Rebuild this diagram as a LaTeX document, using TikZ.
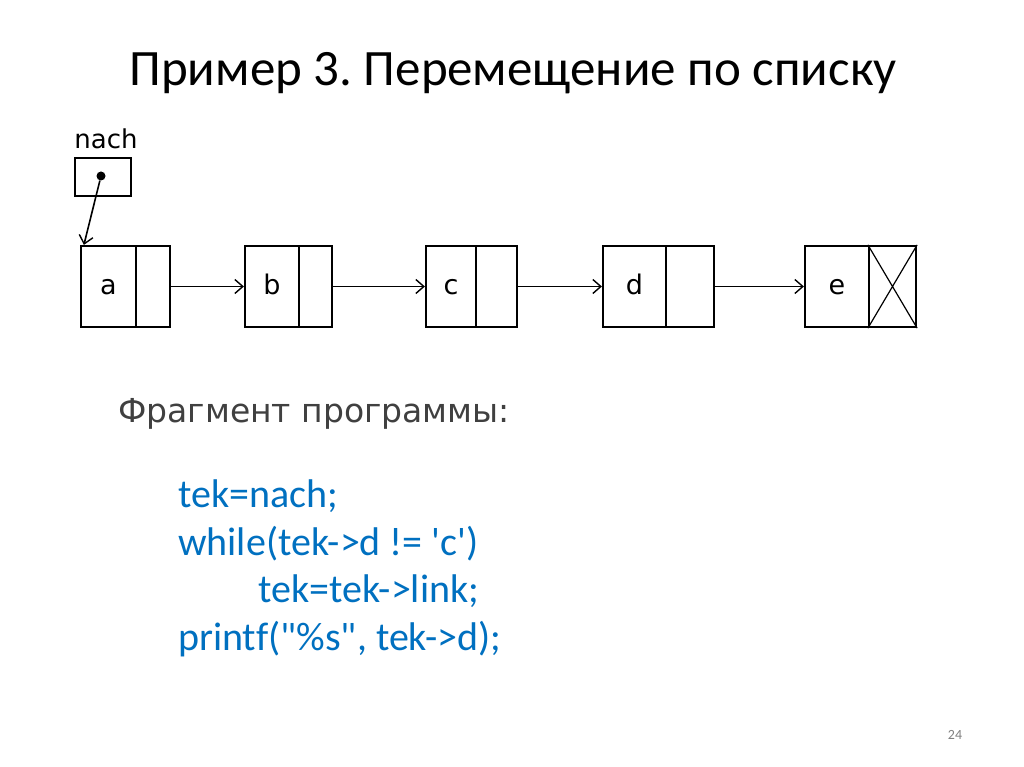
\documentclass[tikz,border=0pt]{standalone}
\usepackage{fontspec}
\setmainfont{Carlito}
\newfontfamily\djv{DejaVu Sans}
\newfontfamily\codefont{Carlito}[Ligatures={TeXOff,CommonOff}]
\usetikzlibrary{arrows.meta,calc}
\definecolor{codeblue}{HTML}{0070C0}
\definecolor{graytext}{HTML}{404040}
\tikzset{
  cell/.style={draw,line width=2.2pt,inner sep=0pt,minimum height=81pt,text height=15pt,text depth=0pt,font=\djv\fontsize{27}{27}\selectfont},
  link/.style={line width=1.6pt,-{Straight Barb[length=8pt,width=14pt,line width=1.4pt]}},
  code/.style={anchor=base west,inner sep=0pt,text=codeblue,font=\codefont\fontsize{40}{40}\selectfont},
}
\frenchspacing
\begin{document}
\begin{tikzpicture}[x=1pt,y=-1pt]
\useasboundingbox[fill=white] (0,0) rectangle (1024,767);
% title
\node[inner sep=0pt,font=\fontsize{51}{51}\selectfont] (title) at (513,73) {Пример 3. Перемещение по списку};
% nach pointer
\node[inner sep=0pt,font=\djv\fontsize{26}{26}\selectfont] (nachlbl) at (106,139) {nach};
\node[draw,line width=2.2pt,minimum width=56pt,minimum height=38pt,inner sep=0pt] (nach) at (103,177) {};
\node[circle,fill,inner sep=0pt,minimum size=9pt] (dot) at (101,176) {};
% list cells
\node[cell,minimum width=55pt] (a) at (108.5,286.5) {a};
\node[cell,minimum width=34pt] (ap) at (153,286.5) {};
\node[cell,minimum width=54pt] (b) at (272,286.5) {b};
\node[cell,minimum width=33pt] (bp) at (315.5,286.5) {};
\node[cell,minimum width=50pt] (c) at (451,286.5) {c};
\node[cell,minimum width=41pt] (cp) at (496.5,286.5) {};
\node[cell,minimum width=63pt] (d) at (634.5,286.5) {d};
\node[cell,minimum width=48pt] (dp) at (690,286.5) {};
\node[cell,minimum width=64pt] (e) at (837,286.5) {e};
\node[cell,minimum width=47pt] (ep) at (892.5,286.5) {};
\draw[line width=1.2pt] (ep.north west) -- (ep.south east) (ep.north east) -- (ep.south west);
% connectors
\coordinate (aIn) at ($(a.north west)+(4,0)$);
\draw[link] (dot) -- (aIn);
\draw[link] (ap.east) -- (b.west);
\draw[link] (bp.east) -- (c.west);
\draw[link] (cp.east) -- (d.west);
\draw[link] (dp.east) -- (e.west);
% text
\node[anchor=base west,inner sep=0pt,text=graytext,font=\djv\fontsize{33}{33}\selectfont] (frag) at (118,422) {Фрагмент программы:};
\node[code] (l1) at (178,507) {tek=nach;};
\node[code] (l2) at (178,555) {while(tek->d != 'c')};
\node[code] (l3) at (258,602) {tek=tek->link;};
\node[code] (l4) at (178,650) {printf("\%s", tek->d);};
\node[inner sep=0pt,text=gray,font=\fontsize{14}{14}\selectfont] (pg) at (955,735) {24};
\end{tikzpicture}
\end{document}
